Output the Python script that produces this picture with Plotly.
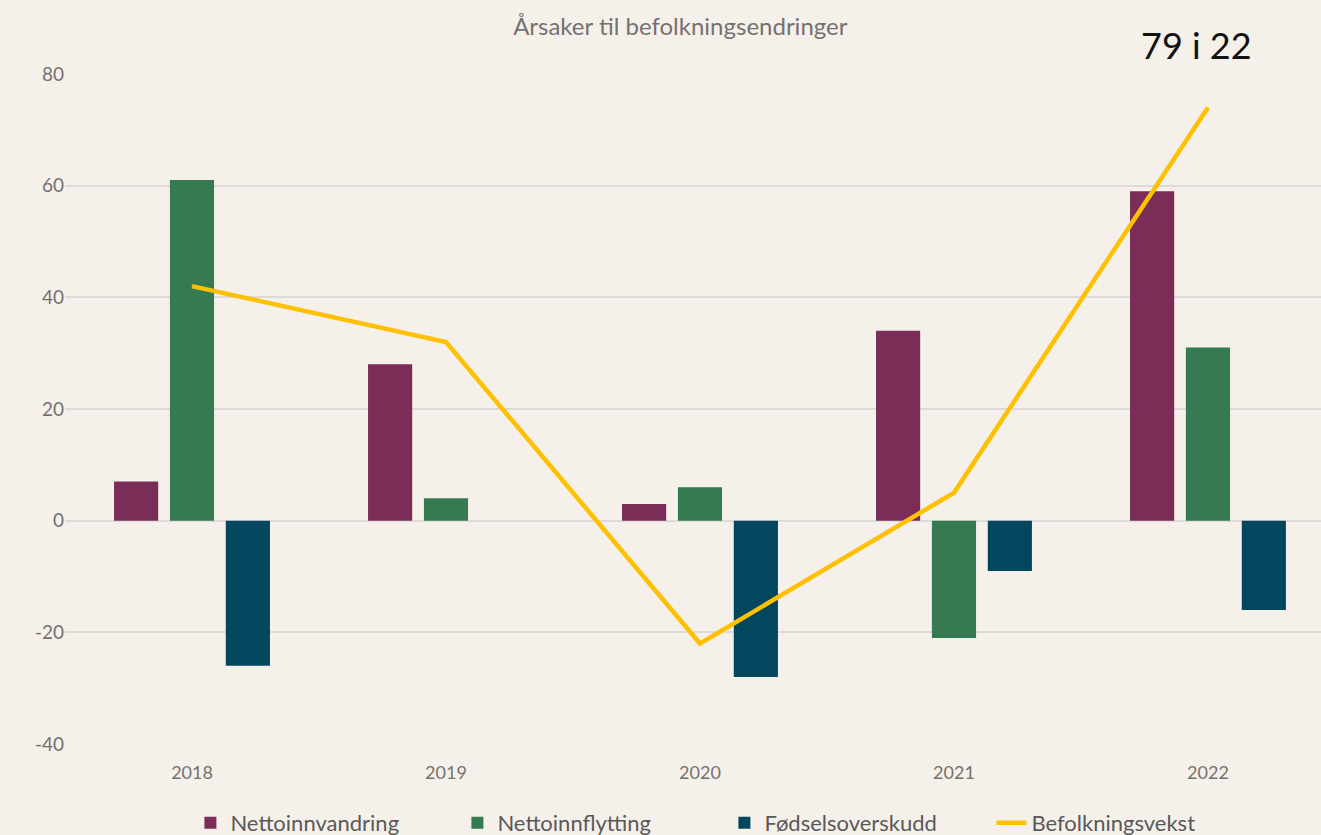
import plotly.graph_objects as go

years = ["2018", "2019", "2020", "2021", "2022"]
nettoinnvandring = [7, 28, 3, 34, 59]
nettoinnflytting = [61, 4, 6, -21, 31]
fodselsoverskudd = [-26, 0, -28, -9, -16]
befolkningsvekst = [42, 32, -22, 5, 74]
y_ticks = [-40, -20, 0, 20, 40, 60, 80]
y_ticklabels = ["-40", "-20", "0", "20", "40", "60", "80"]

bg = "#F6F0EA"
grid = "#DEDAD9"
txt = "#767171"
font_family = "Lato, 'Open Sans', sans-serif"

H = 835
fig = go.Figure()
fig.add_trace(go.Bar(x=years, y=nettoinnvandring, name="Nettoinnvandring",
                     marker=dict(color="#7A2D57", line=dict(width=0))))
fig.add_trace(go.Bar(x=years, y=nettoinnflytting, name="Nettoinnflytting",
                     marker=dict(color="#357A50", line=dict(width=0))))
fig.add_trace(go.Bar(x=years, y=fodselsoverskudd, name="Fødselsoverskudd",
                     marker=dict(color="#03475E", line=dict(width=0))))
fig.add_trace(go.Scatter(x=years, y=befolkningsvekst, name="Befolkningsvekst",
                         mode="lines", line=dict(color="#FFC000", width=4.5)))

fig.update_layout(
    width=1321, height=H,
    paper_bgcolor=bg, plot_bgcolor=bg,
    margin=dict(l=65, r=0, t=74, b=H - 744, autoexpand=False),
    barmode="group", bargap=0.34, bargroupgap=0.21,
    font=dict(family=font_family, color=txt, size=18),
    title=dict(text="Årsaker til befolkningsendringer", x=0.515, xanchor="center",
               y=1 - 27 / H, yanchor="middle", font=dict(size=24, color=txt)),
    showlegend=True,
    legend=dict(orientation="h", x=0.525, xanchor="center",
                y=-(823 - 744) / 670, yanchor="middle",
                font=dict(size=22, color="#595959"), bgcolor="rgba(0,0,0,0)",
                entrywidth=222, entrywidthmode="pixels", tracegroupgap=0),
    xaxis=dict(type="category", range=[-0.5, 4.445], showgrid=False, showline=False,
               ticks="", ticklabelstandoff=16, tickfont=dict(size=18, color=txt)),
    yaxis=dict(range=[-40, 80], tickvals=y_ticks, ticktext=y_ticklabels,
               showgrid=True, gridcolor=grid, gridwidth=2,
               zeroline=True, zerolinecolor=grid, zerolinewidth=2,
               showline=False, ticks="", tickfont=dict(size=19, color=txt)),
    annotations=[dict(text="79 i 22", xref="paper", yref="paper",
                      x=(1196 - 65) / 1256, y=(744 - 45) / 670,
                      xanchor="center", yanchor="middle", showarrow=False,
                      font=dict(size=36, color="#111111", family=font_family))],
)

fig.write_html("out.html", config={"displayModeBar": False},
               post_script="document.body.style.margin='0';")
